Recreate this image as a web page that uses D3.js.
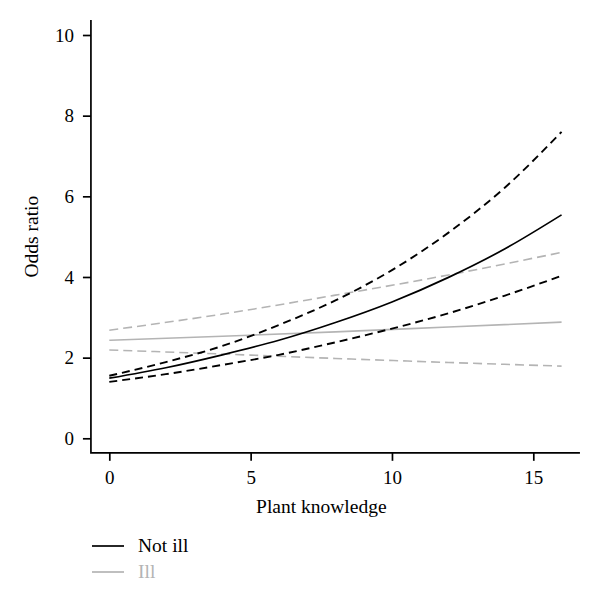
<!DOCTYPE html>
<html>
<head>
<meta charset="utf-8">
<script src="https://cdn.jsdelivr.net/npm/d3@7"></script>
<style>
  body { margin: 0; background: #fff; }
  svg { display: block; }
  text { font-family: "Liberation Serif", "DejaVu Serif", serif; }
</style>
</head>
<body>
<div id="chart"></div>
<script>
const BLACK = "#000";
const GRAY = "#b4b4b4";

// plant knowledge values where the curves were read
const knowledge = [0, 2, 4, 6, 8, 10, 12, 14, 16];
// not ill: fitted odds ratio and confidence bounds
const notIll = [1.49, 1.75, 2.07, 2.43, 2.87, 3.38, 3.99, 4.70, 5.54];
const notIllHi = [1.55, 1.89, 2.29, 2.81, 3.42, 4.17, 5.10, 6.22, 7.60];
const notIllLo = [1.40, 1.59, 1.82, 2.07, 2.38, 2.72, 3.10, 3.54, 4.03];

// ill group (nearly straight lines)
const illKnowledge = [0, 4, 8, 12, 16];
const ill = [2.43, 2.53, 2.64, 2.76, 2.88];
const illHi = [2.68, 3.08, 3.55, 4.05, 4.61];
const illLo = [2.19, 2.09, 1.98, 1.88, 1.79];

const xTicks = [0, 5, 10, 15];
const yTicks = [0, 2, 4, 6, 8, 10];
const legendLabels = ["Not ill", "Ill"];

const width = 600, height = 604;

const svg = d3.select("#chart").append("svg")
    .attr("width", width)
    .attr("height", height);

let x = d3.scaleLinear().domain([0, 15]).range([109.3, 533.3]);
let y = d3.scaleLinear().domain([0, 10]).range([438.3, 35]);

// axis extents run a bit past the data
let xLo = -0.65, xHi = 16.65;
let yLo = -0.36, yHi = 10.37;

let axisY = d3.axisLeft(y).tickValues(yTicks).tickSize(8).tickPadding(9);
let gy = svg.append("g")
    .attr("transform", `translate(${x(xLo)},0)`)
    .call(axisY);
gy.select(".domain").remove();

let axisX = d3.axisBottom(x).tickValues(xTicks).tickSize(8).tickPadding(10);
let gx = svg.append("g")
    .attr("transform", `translate(0,${y(yLo)})`)
    .call(axisX);
gx.select(".domain").remove();

svg.selectAll(".tick line").attr("stroke", BLACK).attr("stroke-width", 1.7);
svg.selectAll(".tick text")
    .attr("fill", BLACK)
    .style("font-size", "19px");

// axis lines
svg.append("path")
    .attr("d", `M${x(xLo)},${y(yHi)}V${y(yLo)}H${x(xHi)}`)
    .attr("fill", "none")
    .attr("stroke", BLACK)
    .attr("stroke-width", 1.7);

svg.append("text")
    .attr("x", (x(0) + x(15)) / 2)
    .attr("y", 513)
    .attr("text-anchor", "middle")
    .style("font-size", "19.5px")
    .text("Plant knowledge");

svg.append("text")
    .attr("transform", `translate(38,${(y(0) + y(10)) / 2}) rotate(-90)`)
    .attr("text-anchor", "middle")
    .style("font-size", "19.5px")
    .text("Odds ratio");

let line = d3.line()
    .x(d => x(d[0]))
    .y(d => y(d[1]))
    .curve(d3.curveMonotoneX);

let series = [
    { xs: illKnowledge, ys: illHi, color: GRAY, dash: "9,5", w: 1.6 },
    { xs: illKnowledge, ys: illLo, color: GRAY, dash: "9,5", w: 1.6 },
    { xs: illKnowledge, ys: ill, color: GRAY, dash: null, w: 1.6 },
    { xs: knowledge, ys: notIllHi, color: BLACK, dash: "8,5", w: 1.9 },
    { xs: knowledge, ys: notIllLo, color: BLACK, dash: "8,5", w: 1.9 },
    { xs: knowledge, ys: notIll, color: BLACK, dash: null, w: 1.7 }
];

svg.append("g").selectAll("path")
    .data(series)
    .join("path")
    .attr("d", s => line(s.xs.map((k, i) => [k, s.ys[i]])))
    .attr("fill", "none")
    .attr("stroke", s => s.color)
    .attr("stroke-width", s => s.w)
    .attr("stroke-dasharray", s => s.dash);

// legend
let legend = svg.append("g").attr("transform", "translate(92,546)");
let items = legend.selectAll("g")
    .data(legendLabels)
    .join("g")
    .attr("transform", (d, i) => `translate(0,${i * 26})`);
items.append("line")
    .attr("x1", 0).attr("x2", 32)
    .attr("stroke", (d, i) => i == 0 ? BLACK : GRAY)
    .attr("stroke-width", 1.7);
items.append("text")
    .attr("x", 46)
    .attr("y", 6)
    .style("font-size", "19.5px")
    .attr("fill", (d, i) => i == 0 ? BLACK : GRAY)
    .text(d => d);
</script>
</body>
</html>
